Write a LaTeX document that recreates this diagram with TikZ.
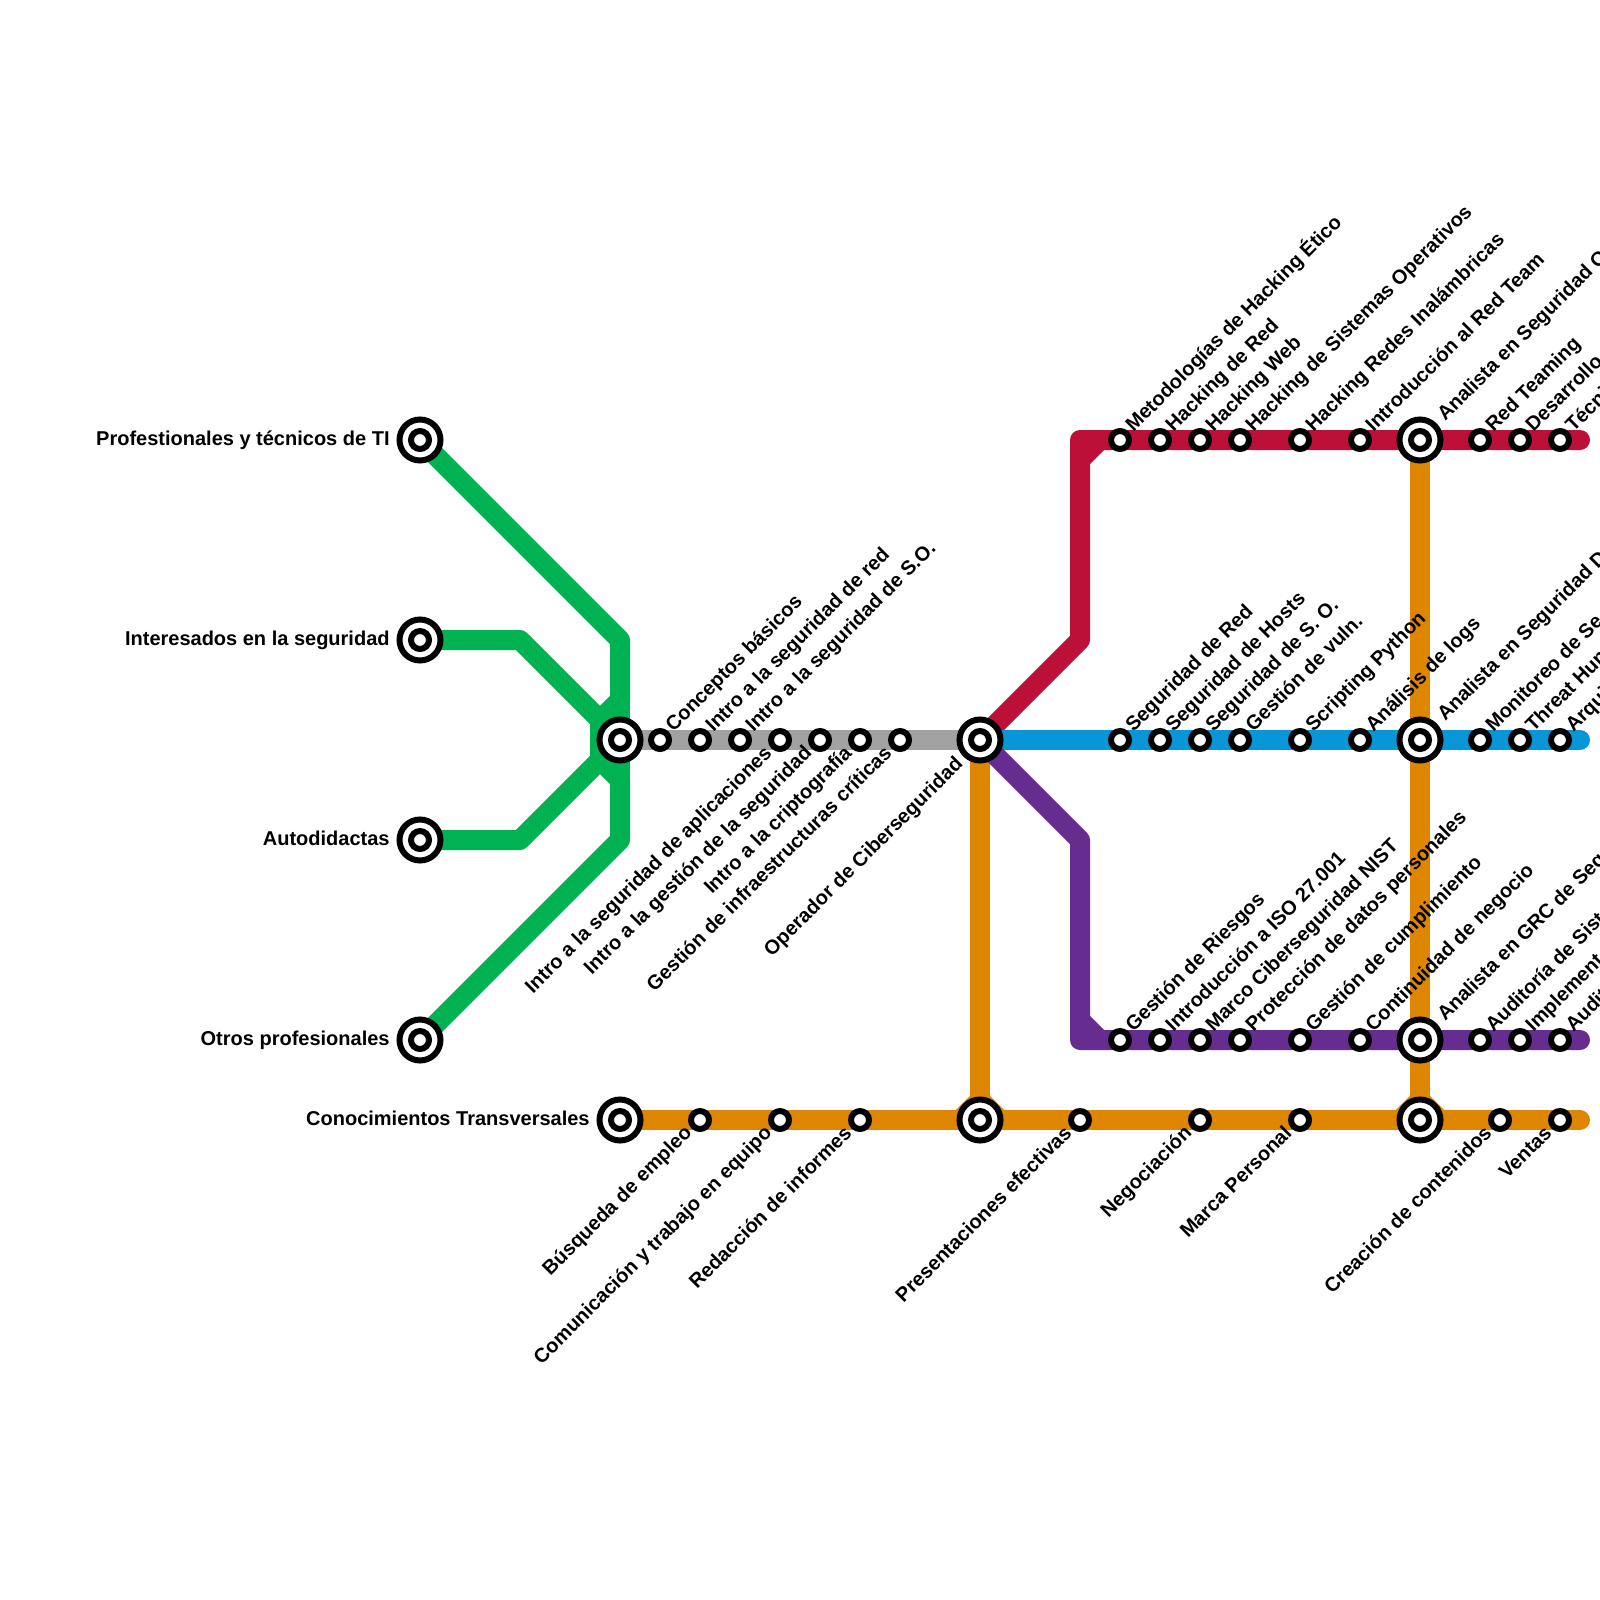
\documentclass[tikz,border=0pt]{standalone}
\usepackage{fontspec}
\setmainfont{Liberation Sans}
\usetikzlibrary{backgrounds}
\definecolor{mgreen}{HTML}{00B251}
\definecolor{mred}{HTML}{BD1038}
\definecolor{mblue}{HTML}{0896D7}
\definecolor{mpurple}{HTML}{662C90}
\definecolor{morange}{HTML}{DF8600}
\definecolor{mgrey}{HTML}{A2A2A2}
\tikzset{
  lne/.style={line width=10pt,line cap=round,line join=round},
  stopdot/.style={circle,draw=black,fill=white,line width=3pt,minimum size=9pt,inner sep=0pt},
  hubring/.style={circle,draw=black,fill=white,line width=3pt,minimum size=20.5pt,inner sep=0pt},
  txt/.style={font=\bfseries\fontsize{10}{11}\selectfont,inner sep=0pt,text=black},
  lblup/.style={txt,xshift=6.7pt,yshift=3.5pt,rotate=45,anchor=base west},
  lbldn/.style={txt,xshift=-3.5pt,yshift=-7pt,rotate=45,anchor=base east},
  hubup/.style={txt,xshift=12.5pt,yshift=9pt,rotate=45,anchor=base west},
  hubdn/.style={txt,xshift=-8pt,yshift=-12.5pt,rotate=45,anchor=base east},
  hubleft/.style={txt,anchor=base east,xshift=-15pt,yshift=-2.5pt},
}
\newcommand{\su}[4]{\node[stopdot] (#1) at (#2,#3) {}; \node[lblup] (#1t) at (#2,#3) {#4};}
\newcommand{\sd}[4]{\node[stopdot] (#1) at (#2,#3) {}; \node[lbldn] (#1t) at (#2,#3) {#4};}
\newcommand{\hb}[3]{\node[hubring] (#1) at (#2,#3) {}; \node[stopdot] (#1i) at (#2,#3) {};}
\begin{document}
\begin{tikzpicture}[x=0.5pt,y=-0.5pt]
\useasboundingbox (0,0) rectangle (1600,1600);
\clip (0,0) rectangle (1600,1600);
% hubs
\hb{hp}{420}{440} \node[hubleft] (hpt) at (hp.center) {Profestionales y técnicos de TI};
\hb{hi}{420}{640} \node[hubleft] (hit) at (hi.center) {Interesados en la seguridad};
\hb{ha}{420}{840} \node[hubleft] (hat) at (ha.center) {Autodidactas};
\hb{ho}{420}{1040} \node[hubleft] (hot) at (ho.center) {Otros profesionales};
\hb{hg}{620}{740}
\hb{hc}{620}{1120} \node[hubleft] (hct) at (hc.center) {Conocimientos Transversales};
\hb{hm}{980}{740} \node[hubdn] (hmt) at (hm.center) {Operador de Ciberseguridad};
\hb{hn}{980}{1120}
\hb{hr}{1420}{440} \node[hubup] (hrt) at (hr.center) {Analista en Seguridad O};
\hb{hb}{1420}{740} \node[hubup] (hbt) at (hb.center) {Analista en Seguridad D};
\hb{hv}{1420}{1040} \node[hubup] (hvt) at (hv.center) {Analista en GRC de Seg};
\hb{hk}{1420}{1120}
% grey
\su{g1}{660}{740}{Conceptos básicos}
\su{g2}{700}{740}{Intro a la seguridad de red}
\su{g3}{740}{740}{Intro a la seguridad de S.O.}
\sd{g4}{780}{740}{Intro a la seguridad de aplicaciones}
\sd{g5}{820}{740}{Intro a la gestión de la seguridad}
\sd{g6}{860}{740}{Intro a la criptografía}
\sd{g7}{900}{740}{Gestión de infraestructuras críticas}
% red
\su{r1}{1120}{440}{Metodologías de Hacking Ético}
\su{r2}{1160}{440}{Hacking de Red}
\su{r3}{1200}{440}{Hacking Web}
\su{r4}{1240}{440}{Hacking de Sistemas Operativos}
\su{r5}{1300}{440}{Hacking Redes Inalámbricas}
\su{r6}{1360}{440}{Introducción al Red Team}
\su{r7}{1480}{440}{Red Teaming}
\su{r8}{1520}{440}{Desarrollo}
\su{r9}{1560}{440}{Técni}
% blue
\su{b1}{1120}{740}{Seguridad de Red}
\su{b2}{1160}{740}{Seguridad de Hosts}
\su{b3}{1200}{740}{Seguridad de S. O.}
\su{b4}{1240}{740}{Gestión de vuln.}
\su{b5}{1300}{740}{Scripting Python}
\su{b6}{1360}{740}{Análisis de logs}
\su{b7}{1480}{740}{Monitoreo de Se}
\su{b8}{1520}{740}{Threat Hun}
\su{b9}{1560}{740}{Arqui}
% purple
\su{v1}{1120}{1040}{Gestión de Riesgos}
\su{v2}{1160}{1040}{Introducción a ISO 27.001}
\su{v3}{1200}{1040}{Marco Ciberseguridad NIST}
\su{v4}{1240}{1040}{Protección de datos personales}
\su{v5}{1300}{1040}{Gestión de cumplimiento}
\su{v6}{1360}{1040}{Continuidad de negocio}
\su{v7}{1480}{1040}{Auditoría de Sist}
\su{v8}{1520}{1040}{Implement}
\su{v9}{1560}{1040}{Audit}
% orange
\sd{k1}{700}{1120}{Búsqueda de empleo}
\sd{k2}{780}{1120}{Comunicación y trabajo en equipo}
\sd{k3}{860}{1120}{Redacción de informes}
\sd{k4}{1080}{1120}{Presentaciones efectivas}
\sd{k5}{1200}{1120}{Negociación}
\sd{k6}{1300}{1120}{Marca Personal}
\sd{k7}{1500}{1120}{Creación de contenidos}
\sd{k8}{1560}{1120}{Ventas}
% bends and line ends
\coordinate (a1) at (620,640);
\coordinate (a2) at (620,700);
\coordinate (a3) at (600,720);
\coordinate (a4) at (600,760);
\coordinate (a5) at (620,780);
\coordinate (a6) at (620,840);
\coordinate (a7) at (520,640);
\coordinate (a8) at (520,840);
\coordinate (c1) at (1080,640);
\coordinate (c2) at (1080,440);
\coordinate (c3) at (1080,460);
\coordinate (c4) at (1100,440);
\coordinate (d1) at (1080,840);
\coordinate (d2) at (1080,1040);
\coordinate (d3) at (1080,1020);
\coordinate (d4) at (1100,1040);
\coordinate (e1) at (1580,440);
\coordinate (e2) at (1580,740);
\coordinate (e3) at (1580,1040);
\coordinate (e4) at (1580,1120);
\coordinate (f1) at (960,1120);
\coordinate (f2) at (980,1100);
\coordinate (f3) at (1000,1120);
\coordinate (f4) at (1400,1120);
\coordinate (f5) at (1420,1100);
\coordinate (f6) at (1440,1120);
\begin{scope}[on background layer]
\draw[lne,mgreen] (hp.center) -- (a1) -- (a2) -- (a3) -- (a4) -- (a5) -- (a6) -- (ho.center);
\draw[lne,mgreen] (a2) -- (a5);
\draw[lne,mgreen] (hi.center) -- (a7) -- (a3);
\draw[lne,mgreen] (ha.center) -- (a8) -- (a4);
\draw[lne,mgrey] (hg.center) -- (hm.center);
\draw[lne,morange] (hm.center) -- (hn.center);
\draw[lne,morange] (hr.center) -- (hk.center);
\draw[lne,morange] (hc.center) -- (e4);
\draw[lne,morange] (f1) -- (f2) -- (f3);
\draw[lne,morange] (f4) -- (f5) -- (f6);
\draw[lne,mred] (hm.center) -- (c1) -- (c2) -- (e1);
\draw[lne,mred] (c3) -- (c4);
\draw[lne,mblue] (hm.center) -- (e2);
\draw[lne,mpurple] (hm.center) -- (d1) -- (d2) -- (e3);
\draw[lne,mpurple] (d3) -- (d4);
\end{scope}
\end{tikzpicture}
\end{document}
